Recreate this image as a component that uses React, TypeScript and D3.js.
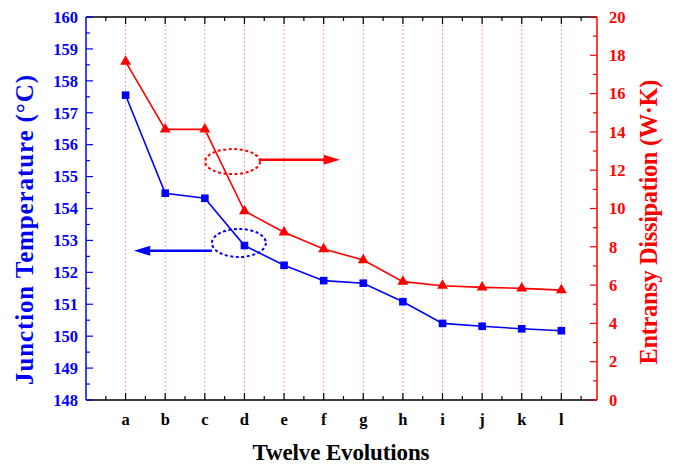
import * as d3 from "d3";

const categories = ["a", "b", "c", "d", "e", "f", "g", "h", "i", "j", "k", "l"];
const junctionTemp = [157.55, 154.48, 154.32, 152.84, 152.22, 151.74, 151.66, 151.08, 150.4, 150.31, 150.23, 150.17];
const entransy = [17.67, 14.13, 14.13, 9.87, 8.76, 7.88, 7.31, 6.18, 5.97, 5.88, 5.83, 5.74];
const leftTicks = d3.range(148, 161);
const rightTicks = d3.range(0, 21, 2);

const BLUE = "#0000ff";
const RED = "#ff0000";
const FONT = "'Liberation Serif', 'Times New Roman', serif";

const App = () => {
  const left = 86, right = 597, top = 17, bottom = 400;
  const x = d3.scaleLinear().domain([0, 12.9]).range([left, right]);
  const yL = d3.scaleLinear().domain([148, 160]).range([bottom, top]);
  const yR = d3.scaleLinear().domain([0, 20]).range([bottom, top]);

  const blueLine = d3.line<number>().x((_, i) => x(i + 1)).y((d) => yL(d));
  const redLine = d3.line<number>().x((_, i) => x(i + 1)).y((d) => yR(d));
  const square = d3.symbol(d3.symbolSquare, 58)();
  const triangle = d3.symbol(d3.symbolTriangle, 52)();

  const xTicks = d3.range(0.5, 12.9, 0.5);
  const leftMinor = d3.range(148.5, 160, 1);
  const rightMinor = d3.range(1, 20, 2);

  return (
    <svg width={675} height={464} style={{ position: "absolute", left: 0, top: 0, background: "#fff" }}>
      {/* category grid lines */}
      {categories.map((c, i) => (
        <line key={c} x1={x(i + 1)} x2={x(i + 1)} y1={top} y2={bottom}
          stroke="#ff9a9a" strokeWidth={1} strokeDasharray="2,2" />
      ))}

      {/* top & bottom axes */}
      <line x1={left} x2={right} y1={top} y2={top} stroke="#000" strokeWidth={1.5} />
      <line x1={left} x2={right} y1={bottom} y2={bottom} stroke="#000" strokeWidth={1.5} />
      {xTicks.map((t) => {
        const major = Number.isInteger(t);
        const len = major ? 7 : 4;
        return (
          <g key={t}>
            <line x1={x(t)} x2={x(t)} y1={top} y2={top + len} stroke="#000" strokeWidth={1.2} />
            <line x1={x(t)} x2={x(t)} y1={bottom} y2={bottom - len} stroke="#000" strokeWidth={1.2} />
          </g>
        );
      })}
      {categories.map((c, i) => (
        <text key={c} x={x(i + 1)} y={425} textAnchor="middle" fontFamily={FONT}
          fontWeight="bold" fontSize={16.5} fill="#000">{c}</text>
      ))}

      {/* left axis */}
      <line x1={left} x2={left} y1={top} y2={bottom} stroke={BLUE} strokeWidth={1.5} />
      {leftTicks.map((t) => (
        <g key={t}>
          <line x1={left} x2={left + 7} y1={yL(t)} y2={yL(t)} stroke={BLUE} strokeWidth={1.2} />
          <text x={78} y={yL(t)} dy="0.35em" textAnchor="end" fontFamily={FONT}
            fontWeight="bold" fontSize={16.5} fill={BLUE}>{t}</text>
        </g>
      ))}
      {leftMinor.map((t) => (
        <line key={t} x1={left} x2={left + 4} y1={yL(t)} y2={yL(t)} stroke={BLUE} strokeWidth={1.2} />
      ))}

      {/* right axis */}
      <line x1={right} x2={right} y1={top} y2={bottom} stroke={RED} strokeWidth={1.5} />
      {rightTicks.map((t) => (
        <g key={t}>
          <line x1={right} x2={right - 7} y1={yR(t)} y2={yR(t)} stroke={RED} strokeWidth={1.2} />
          <text x={609} y={yR(t)} dy="0.35em" textAnchor="start" fontFamily={FONT}
            fontWeight="bold" fontSize={16.5} fill={RED}>{t}</text>
        </g>
      ))}
      {rightMinor.map((t) => (
        <line key={t} x1={right} x2={right - 4} y1={yR(t)} y2={yR(t)} stroke={RED} strokeWidth={1.2} />
      ))}

      {/* series */}
      <path d={redLine(entransy) ?? ""} fill="none" stroke={RED} strokeWidth={1.6} />
      <path d={blueLine(junctionTemp) ?? ""} fill="none" stroke={BLUE} strokeWidth={1.6} />
      {entransy.map((v, i) => (
        <path key={i} d={triangle ?? ""} transform={`translate(${x(i + 1)},${yR(v)})`} fill={RED} />
      ))}
      {junctionTemp.map((v, i) => (
        <path key={i} d={square ?? ""} transform={`translate(${x(i + 1)},${yL(v)})`} fill={BLUE} />
      ))}

      {/* annotations */}
      <ellipse cx={x(3.7)} cy={yR(12.45)} rx={27.5} ry={12.5} fill="none" stroke={RED}
        strokeWidth={2} strokeDasharray="3,2.5" />
      <line x1={x(3.7) + 27.5} x2={x(6.05)} y1={yR(12.55)} y2={yR(12.55)} stroke={RED} strokeWidth={2.5} />
      <path d={`M${x(6.41)},${yR(12.55)} L${x(6.0)},${yR(12.55) - 5} L${x(6.0)},${yR(12.55) + 5} Z`} fill={RED} />

      <ellipse cx={x(3.86)} cy={yL(152.92)} rx={27} ry={14} fill="none" stroke={BLUE}
        strokeWidth={2} strokeDasharray="3,2.5" />
      <line x1={x(3.86) - 27} x2={x(1.6)} y1={yL(152.68)} y2={yL(152.68)} stroke={BLUE} strokeWidth={2.5} />
      <path d={`M${x(1.21)},${yL(152.68)} L${x(1.62)},${yL(152.68) - 5} L${x(1.62)},${yL(152.68) + 5} Z`} fill={BLUE} />

      {/* titles */}
      <text x={341} y={460} textAnchor="middle" fontFamily={FONT} fontWeight="bold" fontSize={23}
        textLength={177} lengthAdjust="spacing" fill="#000">
        Twelve Evolutions
      </text>
      <text transform="translate(33,230) rotate(-90)" textAnchor="middle"
        fontFamily={FONT} fontWeight="bold" fontSize={25} textLength={310} lengthAdjust="spacing" fill={BLUE}>
        Junction Temperature (°C)
      </text>
      <text transform="translate(657,222) rotate(-90)" textAnchor="middle"
        fontFamily={FONT} fontWeight="bold" fontSize={24.5} textLength={285} lengthAdjust="spacing" fill={RED}>
        Entransy Dissipation (W·K)
      </text>
    </svg>
  );
};

export default App;
